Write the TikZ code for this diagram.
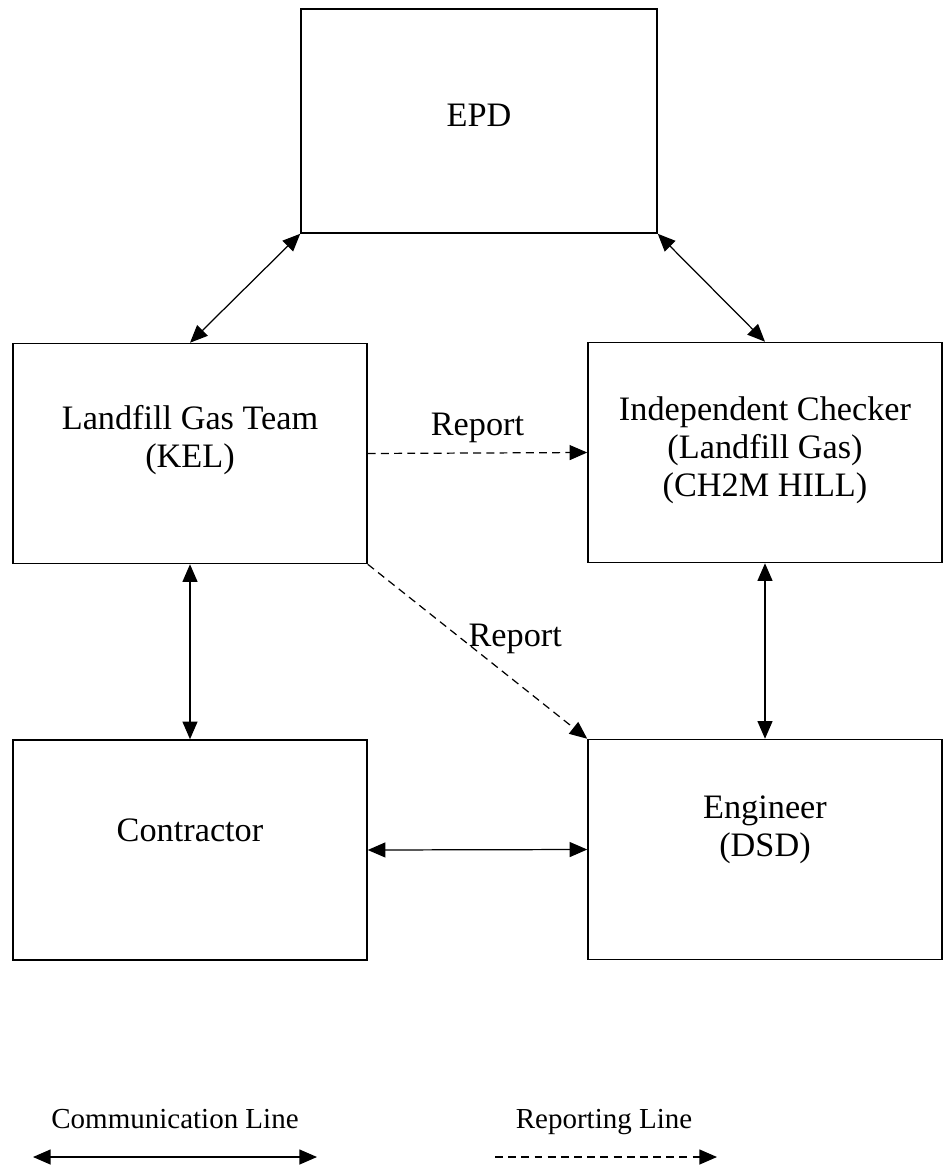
\documentclass[tikz,border=0pt]{standalone}
\usepackage{fontspec}
\setmainfont{Liberation Serif}
\usetikzlibrary{arrows.meta,positioning,calc}

\begin{document}
\begin{tikzpicture}[>={Triangle[length=10pt,width=8.5pt]}, x=0.02cm, y=-0.02cm,
    box/.style={rectangle, draw, line width=0.9pt, minimum width=7.08cm,
                minimum height=4.4cm, inner sep=0pt},
    txt/.style={align=center, font=\fontsize{19.5}{21.5}\selectfont},
    comm/.style={<->, line width=0.7pt},
    rep/.style={->, line width=0.7pt, dash pattern=on 4.5pt off 3pt},
    legend/.style={anchor=base, font=\fontsize{16.5}{19}\selectfont}]
\useasboundingbox (0,0) rectangle (947,1173);
% boxes
\node [box, minimum width=7.12cm, minimum height=4.48cm] (epd) at (479,121) {};
\node [box] (lgt) at (190,453.5) {};
\node [box] (ic) at (765,452.5) {};
\node [box] (con) at (190,850) {};
\node [box] (eng) at (765,849.5) {};
\node [txt] (epd-t) at (479,115) {EPD};
\node [txt] (lgt-t) at (190,440) {Landfill Gas Team\\(KEL)};
\node [txt] (ic-t) at (765,450) {Independent Checker\\(Landfill Gas)\\(CH2M HILL)};
\node [txt] (con-t) at (190,830) {Contractor};
\node [txt] (eng-t) at (765,830) {Engineer\\(DSD)};
% communication lines
\draw [comm] (epd.south west) -- (lgt.north);
\draw [comm] (epd.south east) -- (ic.north);
\draw [comm] (lgt.south) -- (con.north);
\draw [comm] (ic.south) -- (eng.north);
\draw [comm] (con.east) -- (eng.west);
% reporting lines
\draw [rep] (lgt.east) -- node [txt, above=2pt] (rep-ic) {Report} (ic.west);
\draw [rep] (lgt.south east) -- node [txt, pos=0.43, anchor=west] (rep-eng) {Report} (eng.north west);
% legend
\coordinate (comm-a) at (33,1157);
\coordinate (comm-b) at (317,1157);
\coordinate (rep-a) at (495,1157);
\coordinate (rep-b) at (717,1157);
\node [legend] (comm-t) at (175,1128) {Communication Line};
\node [legend] (rep-t) at (604,1128) {Reporting Line};
\draw [comm] (comm-a) -- (comm-b);
\draw [rep] (rep-a) -- (rep-b);
\end{tikzpicture}
\end{document}
